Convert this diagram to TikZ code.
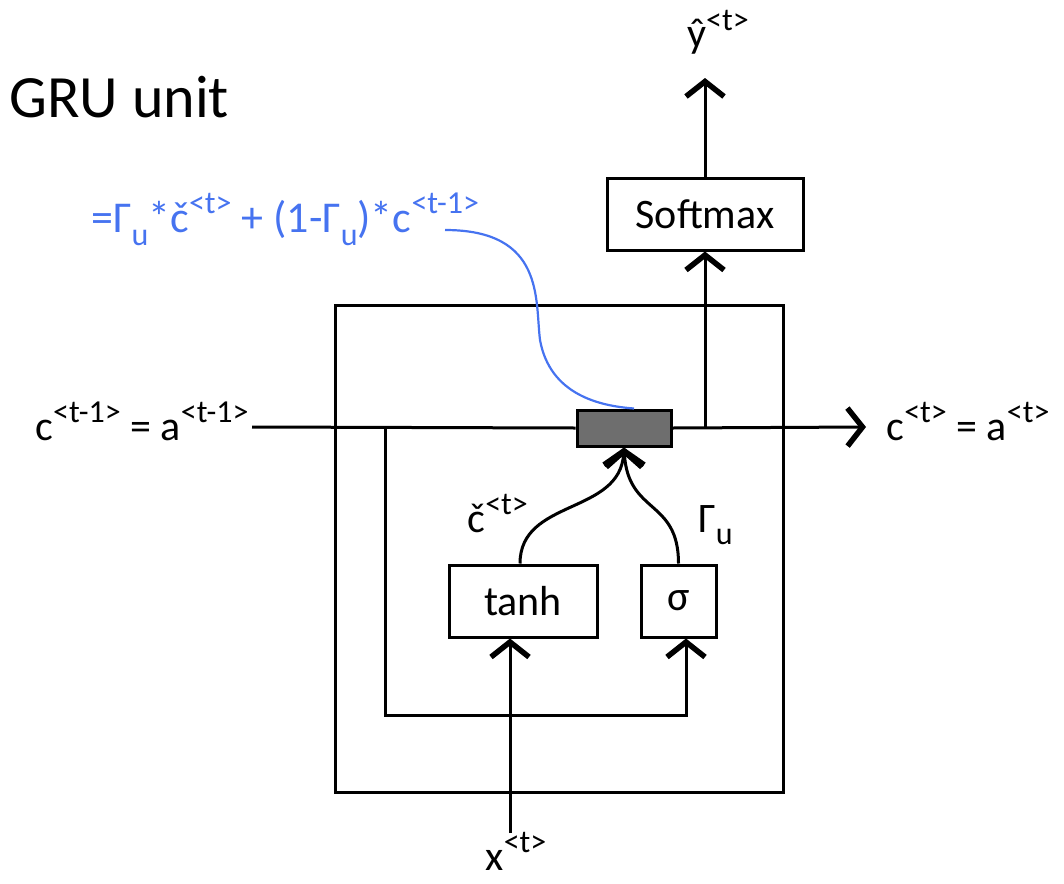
\documentclass[tikz,border=0pt]{standalone}
\usepackage{fontspec}
\setmainfont{Carlito}
\usetikzlibrary{arrows.meta,calc}
\newcommand{\Sp}[1]{\raisebox{0.42em}{\fontsize{32}{34}\selectfont #1}}
\newcommand{\Sb}[1]{\raisebox{-0.3em}{\fontsize{32}{34}\selectfont #1}}
\definecolor{gatefill}{RGB}{110,110,110}
\definecolor{formblue}{RGB}{70,115,240}
\begin{document}
\begin{tikzpicture}[x=1pt,y=-1pt, line width=3pt,
  arr/.style={-{Straight Barb[length=15pt,width=38pt,line width=5.5pt]}},
  box/.style={draw, line width=3pt, inner sep=0pt, font=\fontsize{42}{46}\selectfont},
  lbl/.style={inner sep=0pt, font=\fontsize{42}{46}\selectfont}]
\useasboundingbox (0,0) rectangle (1064,883);

\node[inner sep=0pt, anchor=base west, font=\fontsize{60}{64}\selectfont] (title) at (8,117) {GRU unit};

\node[draw, inner sep=0pt, minimum width=448pt, minimum height=487pt] (cell) at (559,548.5) {};
\node[box, minimum width=196pt, minimum height=72pt] (soft) at (705,214) {Softmax};
\node[box, minimum width=148pt, minimum height=72pt] (tanh) at (523,601) {tanh};
\node[box, minimum width=75pt, minimum height=72pt] (sig) at (678.5,601) {σ};

\node[lbl, anchor=base east] (cin) at (250,440) {c\Sp{<t-1>} = a\Sp{<t-1>}};
\node[lbl, anchor=base west] (cout) at (885,440) {c\Sp{<t>} = a\Sp{<t>}};
\node[lbl, anchor=base] (yhat) at (718,48) {ŷ\Sp{<t>}};
\node[lbl, anchor=base] (xin) at (516,870) {x\Sp{<t>}};
\node[lbl, anchor=base west] (clab) at (466,532) {č\Sp{<t>}};
\node[lbl, anchor=base west] (glab) at (697,532) {Γ\Sb{u}};
\node[lbl, anchor=base west, text=formblue, font=\fontsize{44}{48}\selectfont] (form) at (90,232)
  {=Γ\Sb{u}*č\Sp{<t>} + (1-Γ\Sb{u})*c\Sp{<t-1>}};

\coordinate (L) at (252,427);
\coordinate (R) at (866,427);
\coordinate (J) at (705,427);
\coordinate (B) at (385,427);
\coordinate (Y) at (705,78);
\coordinate (X) at (510,833);
\coordinate (F) at (445,230);

\node[draw, fill=gatefill, inner sep=0pt, minimum width=94pt, minimum height=36pt] (gate) at (624,428) {};

\draw (L) -- (gate.west);
\draw[arr] (gate.east) -- (R);
\draw[arr] (J) -- (soft.south -| J);
\draw[arr] (soft.north) -- (Y);
\draw[arr] (B) |- ($(sig.south)+(7.5,77)$) -- ($(sig.south)+(7.5,0)$);
\draw[arr] (X) -- (X |- tanh.south);
\draw[arr] ($(tanh.north)+(-3,0)$) .. controls +(0,-65) and (620,515) .. (gate.south);
\draw[arr] (sig.north) .. controls +(0,-65) and (628,515) .. (gate.south);

\draw[formblue, line width=2.2pt] (F) .. controls (545,230) and (535,300) .. (540,340)
  .. controls (550,395) and (600,406) .. ($(gate.north)+(10,0)$);
\end{tikzpicture}
\end{document}
